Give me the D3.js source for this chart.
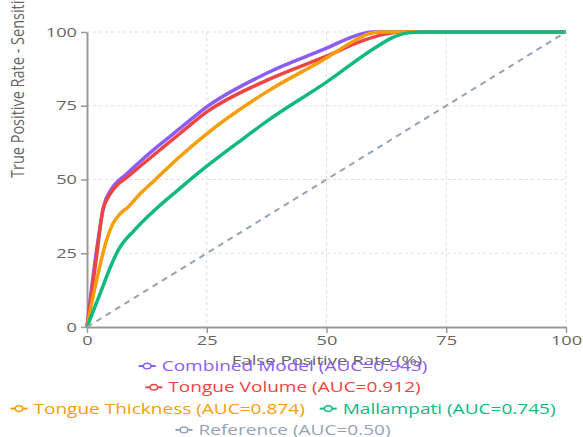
<!DOCTYPE html>
<html>
<head>
<meta charset="utf-8">
<script src="https://cdn.jsdelivr.net/npm/d3@7"></script>
<style>
  body { margin: 0; background: #fff; }
  text { font-family: "Open Sans", sans-serif; }
</style>
</head>
<body>
<div id="chart"></div>
<script>
// ROC points, [false positive rate, true positive rate] in %
const combinedModel = [[0,0],[2,26],[3.5,41],[5,46.5],[6.5,49.5],[8,51.5],[10,54.5],[14.8,61.3],[19.4,67.3],[25,74.6],[37.5,86],[50,94.5],[56,98.7],[59.5,100],[100,100]];
const tongueVolume = [[0,0],[2,24],[3.3,39.5],[4.8,45],[6.5,48.5],[8,50.3],[10,53],[15.2,60],[19.4,65.6],[25,72.9],[37.5,83.6],[50,91.8],[58,97.3],[62,99.2],[66,100],[100,100]];
const tongueThickness = [[0,0],[2.3,18],[4,29],[5.4,35],[7,38.5],[8.6,40.7],[11,45],[14.1,49.7],[19.4,57.8],[25,65.5],[37.5,79.7],[50,91.2],[56,97.2],[59,99.5],[61.5,100],[100,100]];
const mallampati = [[0,0],[3,12.4],[4.8,20],[6.5,26],[10,33],[14.1,39.6],[19.4,47],[25,54.5],[31.5,62.5],[37.5,69.7],[50,83],[60,94.5],[64,98.3],[67,99.7],[70,100],[100,100]];
const reference = [[0,0],[100,100]];

const seriesNames = ["Combined Model (AUC=0.943)", "Tongue Volume (AUC=0.912)", "Tongue Thickness (AUC=0.874)", "Mallampati (AUC=0.745)", "Reference (AUC=0.50)"];
const seriesData = [combinedModel, tongueVolume, tongueThickness, mallampati, reference];
const seriesColors = ["#8b5cf6", "#ef4444", "#f59e0b", "#10b981", "#94a3b8"];
const ticks = [0, 25, 50, 75, 100];

const width = 583;
const height = 437;
const margin = { top: 32, left: 87, bottom: 110, right: 17 };
const iwidth = width - margin.left - margin.right;
const iheight = height - margin.top - margin.bottom;
// the picture is stretched sideways, so text is widened to match
const sx = 1.4;

const svg = d3.select("#chart").append("svg")
  .attr("width", width)
  .attr("height", height);

const g = svg.append("g")
  .attr("transform", `translate(${margin.left}, ${margin.top})`);

const x = d3.scaleLinear().domain([0, 100]).range([0, iwidth]);
const y = d3.scaleLinear().domain([0, 100]).range([iheight, 0]);

// grid
g.append("g").selectAll("line").data(ticks.slice(1)).enter().append("line")
  .attr("x1", d => x(d)).attr("x2", d => x(d))
  .attr("y1", 0).attr("y2", iheight)
  .attr("stroke", "#ddd").attr("stroke-dasharray", "3 3");
g.append("g").selectAll("line").data(ticks.slice(1)).enter().append("line")
  .attr("y1", d => y(d)).attr("y2", d => y(d))
  .attr("x1", 0).attr("x2", iwidth)
  .attr("stroke", "#ddd").attr("stroke-dasharray", "3 3");

// axes
const xAxis = g.append("g")
  .attr("transform", `translate(0, ${iheight})`)
  .call(d3.axisBottom(x).tickValues(ticks).tickSize(6).tickSizeOuter(0).tickPadding(3));
const yAxis = g.append("g")
  .call(d3.axisLeft(y).tickValues(ticks).tickSize(6).tickSizeOuter(0).tickPadding(3));

[xAxis, yAxis].forEach(a => {
  a.select(".domain").attr("stroke", "#999").attr("stroke-width", 2);
  a.selectAll(".tick line").attr("stroke", "#999").attr("stroke-width", 1.5);
  a.selectAll(".tick text").attr("fill", "#666").attr("font-size", 13)
    .style("font-family", '"Open Sans", sans-serif')
    .attr("transform", `scale(${sx}, 1)`);
});
yAxis.selectAll(".tick text").attr("x", -7.2);

// lines
const line = d3.line()
  .x(d => x(d[0]))
  .y(d => y(d[1]))
  .curve(d3.curveMonotoneX);

seriesData.forEach((s, i) => {
  const isRef = i === 4;
  g.append("path")
    .datum(s)
    .attr("fill", "none")
    .attr("stroke", seriesColors[i])
    .attr("stroke-width", isRef ? 2 : 3.5)
    .attr("stroke-dasharray", isRef ? "6 5" : null)
    .attr("stroke-linejoin", "round")
    .attr("d", line);
});

// axis labels
svg.append("text")
  .attr("transform", "translate(24, 178) scale(1.2, 1) rotate(-90)")
  .attr("text-anchor", "start")
  .attr("fill", "#666")
  .attr("font-size", 14.5)
  .text("True Positive Rate - Sensitivity (%)");

svg.append("text")
  .attr("transform", `translate(327, 365) scale(1.43, 1)`)
  .attr("text-anchor", "middle")
  .attr("fill", "#666")
  .attr("font-size", 13)
  .text("False Positive Rate (%)");

// legend, wrapped into centered rows
const legend = svg.append("g");
const items = seriesNames.map((name, i) => {
  const it = legend.append("g");
  it.append("line").attr("x1", 0).attr("x2", 17).attr("y1", 0).attr("y2", 0)
    .attr("stroke", seriesColors[i]).attr("stroke-width", 2);
  it.append("ellipse").attr("cx", 8.5).attr("cy", 0).attr("rx", 3.8).attr("ry", 2.8)
    .attr("fill", "#fff").attr("stroke", seriesColors[i]).attr("stroke-width", 1.5);
  const t = it.append("text")
    .attr("transform", `translate(23, 0) scale(1.36, 1)`)
    .attr("dy", "0.35em")
    .attr("fill", seriesColors[i]).attr("font-size", 14).text(name);
  return { node: it, w: 23 + t.node().getComputedTextLength() * 1.36 };
});

const maxRow = 555;
const gap = 15;
const rows = [];
let cur = [];
let curW = 0;
items.forEach(it => {
  const add = cur.length ? gap + it.w : it.w;
  if (cur.length && curW + add > maxRow) {
    rows.push({ items: cur, w: curW });
    cur = [it];
    curW = it.w;
  } else {
    cur.push(it);
    curW += add;
  }
});
rows.push({ items: cur, w: curW });

rows.forEach((r, ri) => {
  let xpos = 283 - r.w / 2;
  r.items.forEach(it => {
    it.node.attr("transform", `translate(${xpos}, ${366 + ri * 21.3})`);
    xpos += it.w + gap;
  });
});
</script>
</body>
</html>
